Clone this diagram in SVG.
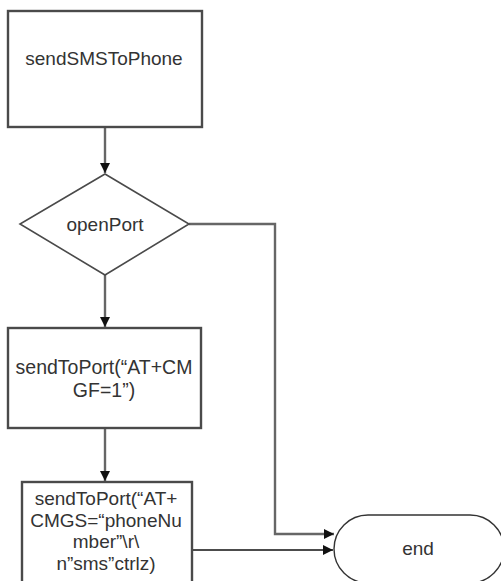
<svg xmlns="http://www.w3.org/2000/svg" width="501" height="581" viewBox="0 0 501 581">
  <style>
    .box { fill: #ffffff; stroke: #4a4a4a; stroke-width: 2.4; }
    .dia { fill: #ffffff; stroke: #4a4a4a; stroke-width: 1.6; }
    .term { fill: #ffffff; stroke: #333333; stroke-width: 1.4; }
    .flow { fill: none; stroke: #666666; stroke-width: 2.4; }
    .thin { fill: none; stroke: #111111; stroke-width: 1.5; }
    text { font-family: "Liberation Sans", Arial, sans-serif; font-size: 19px; fill: #333333; text-anchor: middle; }
    .t195 { font-size: 19.5px; }
  </style>
  <defs>
    <marker id="arrow" viewBox="0 0 10 10" refX="10" refY="5" markerWidth="10" markerHeight="10" markerUnits="userSpaceOnUse" orient="auto">
      <path d="M0,0 L10,5 L0,10 Z" fill="#111111"/>
    </marker>
  </defs>
  <rect width="501" height="581" fill="#ffffff"/>

  <g id="connectors">
    <line class="flow" x1="105" y1="127" x2="105" y2="173" marker-end="url(#arrow)"/>
    <line class="flow" x1="105" y1="275" x2="105" y2="327" marker-end="url(#arrow)"/>
    <line class="flow" x1="105" y1="428" x2="105" y2="481" marker-end="url(#arrow)"/>
    <polyline class="flow" points="189,224 275,224 275,534 334,534" marker-end="url(#arrow)"/>
    <line class="thin" x1="192" y1="550" x2="333" y2="550" marker-end="url(#arrow)"/>
  </g>

  <g id="sendSMSToPhone">
    <rect class="box" x="8" y="11" width="194" height="116"/>
    <text x="104" y="65">sendSMSToPhone</text>
  </g>

  <g id="openPort">
    <polygon class="dia" points="105,174 189,224 105,275 20,224"/>
    <text x="105" y="231">openPort</text>
  </g>

  <g id="setTextMode">
    <rect class="box" x="8" y="328" width="193" height="100"/>
    <text class="t195" x="104" y="374">sendToPort(“AT+CM</text>
    <text class="t195" x="104" y="397">GF=1”)</text>
  </g>

  <g id="sendMessage">
    <rect class="box" x="22" y="482" width="170" height="110"/>
    <text x="106" y="505">sendToPort(“AT+</text>
    <text x="106" y="527">CMGS=“phoneNu</text>
    <text x="106" y="548">mber”\r\</text>
    <text x="106" y="570">n”sms”ctrlz)</text>
  </g>

  <g id="end">
    <rect class="term" x="334" y="515" width="170" height="68" rx="34" ry="34"/>
    <text x="418" y="555">end</text>
  </g>
</svg>
